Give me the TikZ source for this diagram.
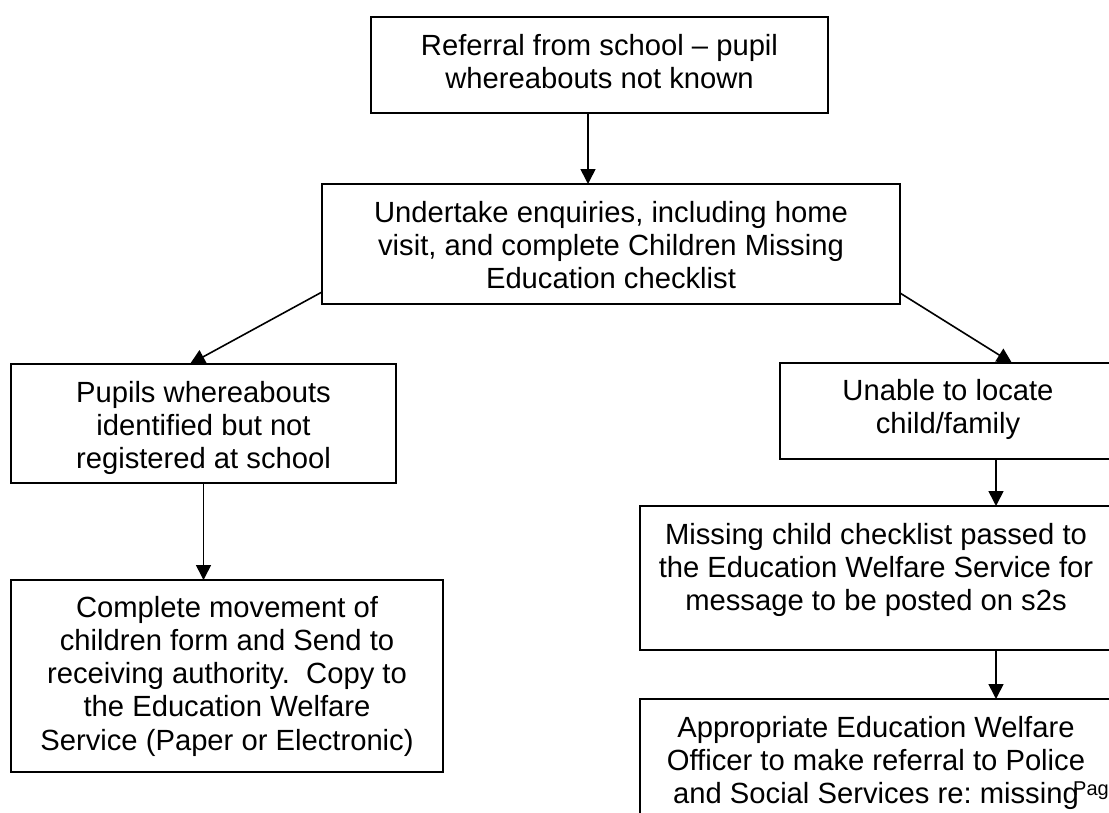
\documentclass[tikz,border=0pt]{standalone}
\usepackage{fontspec}
\setmainfont{Liberation Sans}
\usetikzlibrary{arrows.meta}
\frenchspacing
% centred multi-line text whose reference point is the first baseline
\newcommand\stack[1]{\begin{tabular}[t]{@{}c@{}}#1\end{tabular}}
\begin{document}
\begin{tikzpicture}[x=1pt,y=-1pt,
  box/.style={draw, line width=1.9pt, inner sep=0pt, outer sep=0pt, anchor=north west},
  boxtext/.style={anchor=base, inner sep=0pt, font=\fontsize{29.2}{33.3}\selectfont},
  arr/.style={line width=1.6pt, -{Triangle[length=15pt,width=15pt]}}]
\useasboundingbox (0,0) rectangle (1109,812);
\clip (0,0) rectangle (1109,812);

% boxes
\node[box, minimum width=457pt, minimum height=96pt]  (b1) at (371,17)  {};
\node[box, minimum width=578pt, minimum height=120pt] (b2) at (322,184) {};
\node[box, minimum width=385pt, minimum height=119pt] (b3) at (11,364)  {};
\node[box, minimum width=432pt, minimum height=192pt] (b4) at (11,580)  {};
\node[box, minimum width=336pt, minimum height=96pt]  (b5) at (780,363) {};
\node[box, minimum width=472pt, minimum height=144pt] (b6) at (640,506) {};
\node[box, minimum width=472pt, minimum height=160pt] (b7) at (640,699) {};

% box texts
\node[boxtext] (t1) at ([yshift=-38pt]b1.north) {\stack{Referral from school – pupil\\whereabouts not known}};
\node[boxtext] (t2) at ([yshift=-38pt]b2.north) {\stack{Undertake enquiries, including home\\visit, and complete Children Missing\\Education checklist}};
\node[boxtext] (t3) at ([yshift=-38pt]b3.north) {\stack{Pupils whereabouts\\identified but not\\registered at school}};
\node[boxtext] (t4) at ([yshift=-37pt]b4.north) {\stack{Complete movement of\\children form and Send to\\receiving authority.\ \ Copy to\\the Education Welfare\\Service (Paper or Electronic)}};
\node[boxtext] (t5) at ([yshift=-37pt]b5.north) {\stack{Unable to locate\\child/family}};
\node[boxtext] (t6) at ([yshift=-38pt]b6.north) {\stack{Missing child checklist passed to\\the Education Welfare Service for\\message to be posted on s2s}};
\node[boxtext] (t7) at ([yshift=-38pt]b7.north) {\stack{Appropriate Education Welfare\\Officer to make referral to Police\\and Social Services re: missing}};

\node[anchor=base west, inner sep=0pt, font=\fontsize{20}{23}\selectfont] (pg) at (1073,795) {Pag};

% connectors
\draw[arr] ([xshift=-11.5pt]b1.south) -- ([xshift=-11.5pt]b1.south |- b2.north);
\draw[arr] ([yshift=12pt]b2.south west) -- ([xshift=-13.5pt]b3.north);
\draw[arr] ([yshift=11pt]b2.south east) -- ([xshift=64pt]b5.north);
\draw[arr] (b3.south) -- (b3.south |- b4.north);
\draw[arr] ([xshift=48pt]b5.south) -- ([xshift=48pt]b5.south |- b6.north);
\draw[arr] ([xshift=120pt]b6.south) -- ([xshift=120pt]b6.south |- b7.north);
\end{tikzpicture}
\end{document}
